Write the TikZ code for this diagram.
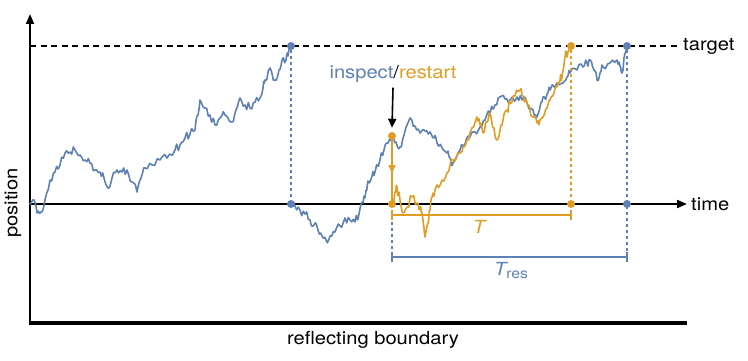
\documentclass[tikz,border=0pt]{standalone}
\usepackage{fontspec}
\setmainfont{TeX Gyre Heros}
\usetikzlibrary{arrows.meta}
\definecolor{mblue}{rgb}{0.368417,0.506779,0.709798}
\definecolor{morange}{rgb}{0.880722,0.611041,0.142051}
\newcommand{\widetxt}[1]{\scalebox{1.12}[1]{#1}}
\begin{document}
\begin{tikzpicture}[x=1pt,y=-1pt,
  walk/.style={line width=1.6pt, line join=round, line cap=round},
  dotb/.style={circle, fill=mblue, inner sep=0pt, minimum size=8pt},
  doto/.style={circle, fill=morange, inner sep=0pt, minimum size=8pt},
  vdot/.style={line width=2pt, dash pattern=on 3pt off 3pt},
  lbl/.style={font=\fontsize{18}{20}\selectfont, inner sep=0pt},
  axis/.style={line width=2pt, -{Triangle[length=10pt,width=8pt]}},
  brk/.style={line width=2pt},
]
\pgfmathsetseed{11}
\def\amp{4.5}
\useasboundingbox (0,0) rectangle (748,361);
% axes
\coordinate (O) at (30,204);
\coordinate (ytop) at (30,14);
\coordinate (xend) at (687,204);
\coordinate (bl) at (30,323);
\coordinate (br) at (687,323);
\coordinate (tgl) at (30,46);
\coordinate (tgr) at (678,46);
\draw[line width=4pt] ([xshift=-1pt]bl) -- (br);
\draw[axis] (bl) -- (ytop);
\draw[axis] (O) -- (xend);
\draw[line width=2.3pt, dash pattern=on 6pt off 4.5pt] (tgl) -- (tgr);

% dots
\node[dotb] (b1t) at (291,46) {};
\node[dotb] (b1b) at (291,204) {};
\node[dotb] (bt) at (627,46) {};
\node[dotb] (bb) at (627,204) {};
\coordinate (resL) at (392,257);
\coordinate (resR) at (627,257);
\coordinate (spanL) at (392,215);
\coordinate (spanR) at (571,215);

% blue dotted
\draw[mblue, vdot] (b1t) -- (b1b);
\draw[mblue, vdot] (bt) -- (resR);
\draw[mblue, vdot] (392,204) -- (resL);
\draw[mblue, brk] (resL) ++(0,-5) -- ++(0,10);
\draw[mblue, brk] (resR) ++(0,-5) -- ++(0,10);
\draw[mblue, brk] (resL) -- (resR);

% blue walk 1
\draw[mblue, walk] (O) \foreach \x/\y [remember=\x as \px (initially 30), remember=\y as \py (initially 204)] in {34/200, 37/213, 41/212, 45/200, 50/180, 55/172, 60/165, 65/153, 70/152, 75/150, 80/155, 85/160, 90/163, 95/170, 100/172, 104/178, 108/188, 112/178, 117/170, 122/172, 127/170, 132/182, 137/192, 141/178, 145/168, 152/165, 160/160, 167/158, 175/150, 180/145, 185/138, 190/134, 195/130, 198/115, 200/100, 205/108, 210/115, 215/125, 220/118, 225/115, 232/122, 236/110, 240/98, 245/105, 250/108, 255/102, 260/98, 263/88, 265/80, 270/68, 275/80, 279/70, 282/60, 286/60, 288/56, 291/46}
  { -- ({(2*\px+\x)/3},{(2*\py+\y)/3+\amp*rand}) -- ({(\px+2*\x)/3},{(\py+2*\y)/3+\amp*rand}) -- (\x,\y) };

% blue walk 2
\draw[mblue, walk] (b1b.center) \foreach \x/\y [remember=\x as \px (initially 291), remember=\y as \py (initially 204)] in {295/206, 300/210, 305/214, 310/220, 314/225, 318/230, 322/236, 326/240, 330/236, 335/232, 340/226, 345/218, 350/220, 355/222, 359/214, 363/203, 366/190, 368/181, 372/176, 375/172, 380/160, 384/150, 388/143, 392/136, 396/142, 400/147, 404/135, 410/118, 415/126, 420/133, 425/131, 430/132, 434/138, 437/143, 442/148, 447/153, 450/158, 453/163, 457/156, 460/150, 465/144, 470/137, 475/132, 480/127, 485/120, 490/113, 495/105, 500/97, 505/99, 510/100, 517/97, 522/100, 527/103, 533/110, 537/117, 540/107, 543/97, 547/94, 550/90, 557/83, 563/83, 567/77, 570/73, 577/70, 583/67, 587/63, 590/60, 594/70, 597/80, 600/73, 603/67, 610/63, 617/60, 620/66, 622/73, 625/53, 627/46}
  { -- ({(2*\px+\x)/3},{(2*\py+\y)/3+\amp*rand}) -- ({(\px+2*\x)/3},{(\py+2*\y)/3+\amp*rand}) -- (\x,\y) };

% orange
\node[doto] (ins) at (392,136) {};
\node[doto] (r0) at (392,204) {};
\node[doto] (ot) at (571,46) {};
\node[doto] (ob) at (571,204) {};
\draw[morange, vdot] (ot) -- (ob);
\draw[morange, line width=2pt] (ins.center) -- (r0.center);
\draw[morange, line width=1pt, -{Triangle[length=8pt,width=7pt]}] (392,160) -- (392,173);
\draw[morange, walk] (r0.center) \foreach \x/\y [remember=\x as \px (initially 392), remember=\y as \py (initially 204)] in {395/192, 397/187, 400/200, 403/213, 407/207, 412/197, 417/203, 420/208, 422/213, 424/228, 425/237, 428/223, 430/210, 432/197, 435/190, 437/185, 442/180, 447/173, 450/165, 453/160, 460/153, 463/147, 467/140, 472/128, 477/117, 480/125, 483/133, 487/122, 490/113, 494/128, 497/140, 500/130, 503/120, 507/110, 510/103, 515/96, 520/90, 523/96, 527/103, 530/110, 533/117, 537/123, 540/120, 543/117, 547/108, 550/100, 554/93, 557/87, 560/80, 562/77, 564/65, 565/57, 568/52, 571/46}
  { -- ({(2*\px+\x)/3},{(2*\py+\y)/3+\amp*rand}) -- ({(\px+2*\x)/3},{(\py+2*\y)/3+\amp*rand}) -- (\x,\y) };
\draw[morange, brk] (spanL) ++(0,-5) -- ++(0,10);
\draw[morange, brk] (spanR) ++(0,-5) -- ++(0,10);
\draw[morange, brk] (spanL) -- (spanR);

% labels
\node[lbl, anchor=west] (target) at (683,46) {\widetxt{target}};
\node[lbl, anchor=west] (time) at (691,204) {\widetxt{time}};
\node[lbl, rotate=90] (pos) at (13,203) {\widetxt{position}};
\node[lbl] (refl) at (373,340) {\widetxt{reflecting boundary}};
\node[lbl] (insp) at (393,74) {\widetxt{\textcolor{mblue}{inspect}/\textcolor{morange}{restart}}};
\node[lbl, text=morange] (T) at (479,227) {\widetxt{\itshape T}};
\node[lbl, text=mblue] (Tres) at (511,271) {\widetxt{{\itshape T}\raisebox{-3pt}{\fontsize{14}{14}\selectfont res}}};
\draw[line width=1.6pt, -{Triangle[length=9pt,width=8pt]}] ([yshift=-5pt]insp.south) -- ([yshift=4pt]ins.north);
\end{tikzpicture}
\end{document}
